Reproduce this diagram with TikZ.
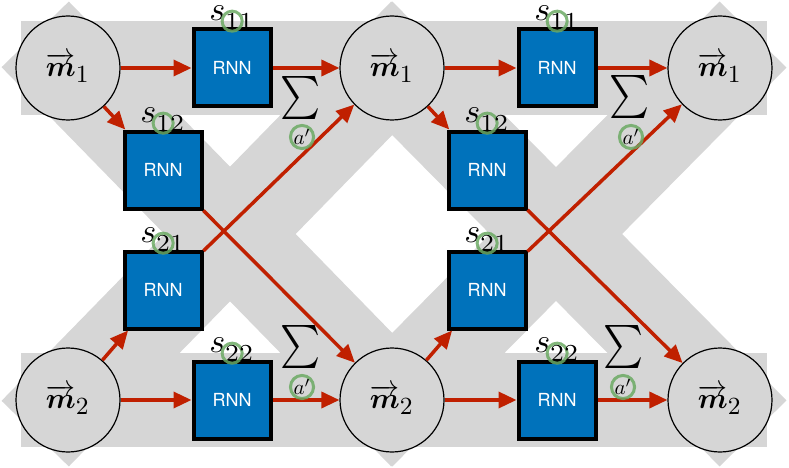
\documentclass[tikz,border=0pt]{standalone}
\usepackage{amsmath}
\usepackage{fontspec}
\newfontfamily\rnnfont{TeX Gyre Heros}
\usetikzlibrary{arrows.meta,positioning}

\definecolor{bandgray}{RGB}{214,214,214}
\definecolor{rnnblue}{RGB}{0,114,187}
\definecolor{arrowred}{RGB}{192,32,0}
\definecolor{ringgreen}{RGB}{108,170,100}

\tikzset{
  band/.style={bandgray, line width=94pt, line cap=rect},
  msg/.style={circle, draw, line width=1.2pt, fill=bandgray, minimum size=104pt, inner sep=0pt},
  rnn/.style={draw, fill=rnnblue, line width=4pt, minimum size=77pt, inner sep=0pt, text=white, font=\rnnfont\fontsize{18}{20}\selectfont},
  flow/.style={->, draw=arrowred, line width=3.5pt},
  slab/.style={inner sep=0pt},
  sumsign/.style={inner sep=0pt},
  ringline/.style={draw=ringgreen, line width=3pt, draw opacity=0.85},
  aprime/.style={circle, ringline, minimum size=20pt, inner sep=0pt}
}
% math is set at 10pt and scaled up
\newcommand{\msgm}[1]{\scalebox{2.9}{$\overrightarrow{\boldsymbol{m}}_{\hbox{\fontsize{8.5}{9}\selectfont #1}}$}}
\newcommand{\hlring}[1]{\tikz[baseline=(h.base)]{\node[inner sep=0pt] (h) {#1}; \draw[draw=ringgreen, line width=0.88pt, draw opacity=0.85, overlay] (h.center) circle (2.95pt);}}
\newcommand{\stlab}[2]{\scalebox{3.4}{$s_{\lower1.1pt\hbox{\fontsize{7.2}{8}\selectfont\hlring{#1}#2}}$}}
\newcommand{\bigsum}{\scalebox{3.8}[4.3]{$\sum$}}

\begin{document}
\begin{tikzpicture}[x=1pt, y=-1pt, >={Triangle[length=18pt, width=16pt]}]
\useasboundingbox (0,0) rectangle (789,468);

% centres of the messages
\coordinate (p1a) at (68,68);
\coordinate (p1b) at (392,68);
\coordinate (p1c) at (720,68);
\coordinate (p2a) at (68,400);
\coordinate (p2b) at (392,400);
\coordinate (p2c) at (720,400);

% gray bands
\draw[band] (p1a) -- (p1c);
\draw[band] (p2a) -- (p2c);
\draw[band] (p1a) -- (p2b) (p2a) -- (p1b) (p1b) -- (p2c) (p2b) -- (p1c);

\node[msg] (m1a) at (p1a) {\msgm{1}};
\node[msg] (m1b) at (p1b) {\msgm{1}};
\node[msg] (m1c) at (p1c) {\msgm{1}};
\node[msg] (m2a) at (p2a) {\msgm{2}};
\node[msg] (m2b) at (p2b) {\msgm{2}};
\node[msg] (m2c) at (p2c) {\msgm{2}};

\node[rnn] (s11a) at (232,68) {RNN};
\node[rnn] (s12a) at (163,170) {RNN};
\node[rnn] (s21a) at (163,290) {RNN};
\node[rnn] (s22a) at (232,400) {RNN};
\node[rnn] (s11b) at (557,68) {RNN};
\node[rnn] (s12b) at (487,170) {RNN};
\node[rnn] (s21b) at (487,290) {RNN};
\node[rnn] (s22b) at (557,400) {RNN};

\draw[flow] (m1a) -- (s11a);
\draw[flow] (s11a) -- (m1b);
\draw[flow] (m1a) -- (s12a);
\draw[flow] (s12a) -- (m2b);
\draw[flow] (m2a) -- (s21a);
\draw[flow] (s21a) -- (m1b);
\draw[flow] (m2a) -- (s22a);
\draw[flow] (s22a) -- (m2b);
\draw[flow] (m1b) -- (s11b);
\draw[flow] (s11b) -- (m1c);
\draw[flow] (m1b) -- (s12b);
\draw[flow] (s12b) -- (m2c);
\draw[flow] (m2b) -- (s21b);
\draw[flow] (s21b) -- (m1c);
\draw[flow] (m2b) -- (s22b);
\draw[flow] (s22b) -- (m2c);

\node[slab, above=-2pt of s11a] (l11a) {\stlab{1}{1}};
\node[slab, above=-2pt of s12a] (l12a) {\stlab{1}{2}};
\node[slab, above=-2pt of s21a] (l21a) {\stlab{2}{1}};
\node[slab, above=-2pt of s22a] (l22a) {\stlab{2}{2}};
\node[slab, above=-2pt of s11b] (l11b) {\stlab{1}{1}};
\node[slab, above=-2pt of s12b] (l12b) {\stlab{1}{2}};
\node[slab, above=-2pt of s21b] (l21b) {\stlab{2}{1}};
\node[slab, above=-2pt of s22b] (l22b) {\stlab{2}{2}};

\node[sumsign] (sum1a) at (301,98) {\bigsum};
\node[aprime] (ap1a) at (302,137) {\scalebox{2.1}{$a'$}};
\node[sumsign] (sum2a) at (301,347) {\bigsum};
\node[aprime] (ap2a) at (302,387) {\scalebox{2.1}{$a'$}};
\node[sumsign] (sum1b) at (630,97) {\bigsum};
\node[aprime] (ap1b) at (631,137) {\scalebox{2.1}{$a'$}};
\node[sumsign] (sum2b) at (624,347) {\bigsum};
\node[aprime] (ap2b) at (623,387) {\scalebox{2.1}{$a'$}};
\end{tikzpicture}
\end{document}
